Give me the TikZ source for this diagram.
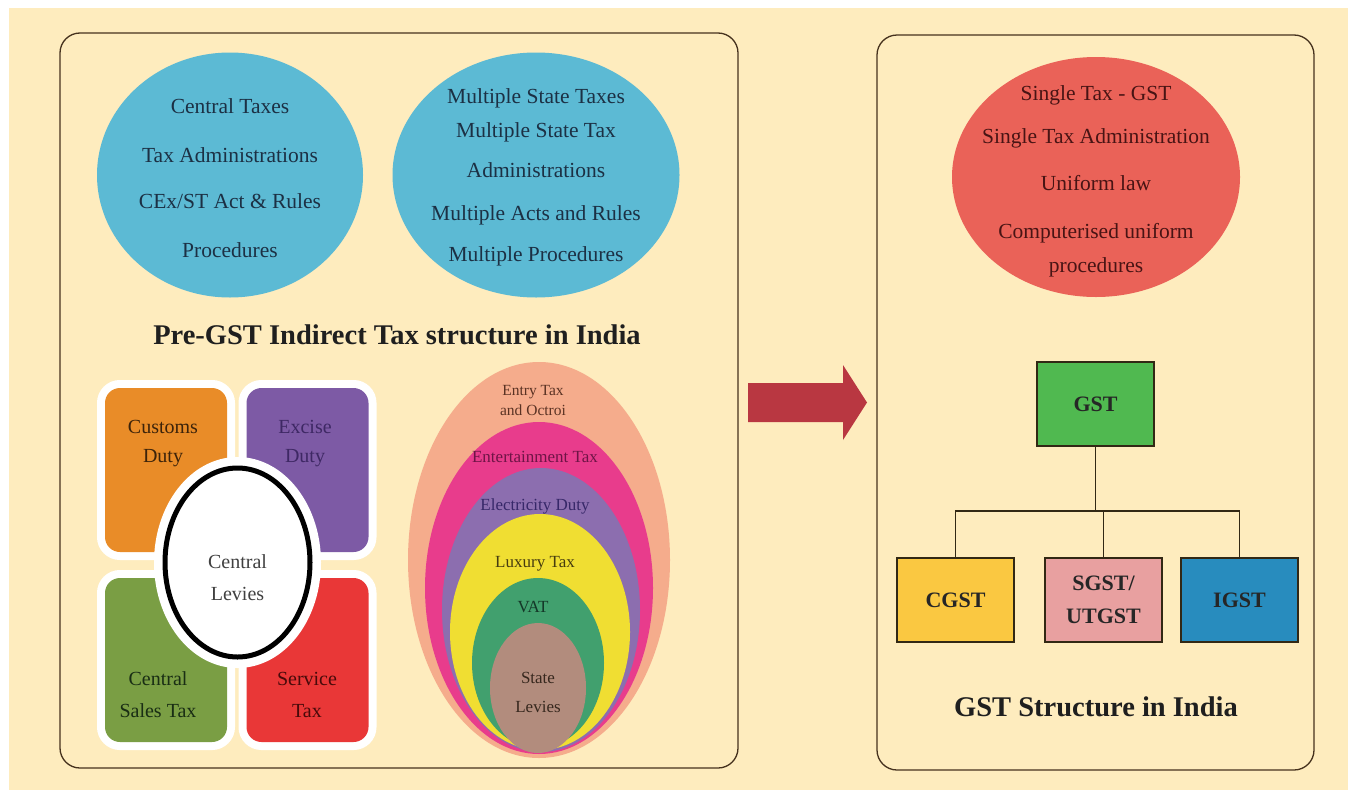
\documentclass[tikz,border=0pt]{standalone}
\usepackage{fontspec}
\setmainfont{Liberation Serif}
\usetikzlibrary{shapes.geometric}
\definecolor{cream}{RGB}{254,236,190}
\definecolor{panelline}{RGB}{70,50,30}
\definecolor{bluefill}{RGB}{92,186,212}
\definecolor{navytext}{RGB}{28,48,68}
\definecolor{redell}{RGB}{234,98,88}
\definecolor{redtext}{RGB}{72,20,20}
\definecolor{orangesq}{RGB}{233,140,40}
\definecolor{purplesq}{RGB}{125,90,165}
\definecolor{greensq}{RGB}{122,158,68}
\definecolor{redsq}{RGB}{233,55,55}
\definecolor{orangetxt}{RGB}{60,35,10}
\definecolor{purpletxt}{RGB}{62,40,100}
\definecolor{greentxt}{RGB}{25,45,20}
\definecolor{redtxt}{RGB}{72,10,10}
\definecolor{peach}{RGB}{245,172,140}
\definecolor{magenta2}{RGB}{232,60,140}
\definecolor{lilac}{RGB}{140,110,175}
\definecolor{yellow2}{RGB}{240,222,50}
\definecolor{teal2}{RGB}{65,160,110}
\definecolor{brown2}{RGB}{178,140,125}
\definecolor{arrowred}{RGB}{185,55,65}
\definecolor{gstgreen}{RGB}{80,185,80}
\definecolor{cgstyellow}{RGB}{250,200,65}
\definecolor{sgstpink}{RGB}{232,160,160}
\definecolor{igstblue}{RGB}{40,140,190}
\definecolor{boxline}{RGB}{50,40,20}
\begin{document}
\begin{tikzpicture}[x=1pt,y=-1pt,
  panel/.style={draw=panelline,line width=1.3pt,rounded corners=20pt,fill=cream,inner sep=0pt},
  ell/.style={ellipse,inner sep=0pt,draw=none},
  bigtxt/.style={font=\fontsize{21.5}{25}\selectfont,inner sep=0pt,anchor=base},
  sqtxt/.style={font=\fontsize{20}{24}\selectfont,inner sep=0pt,anchor=base},
  nesttxt/.style={font=\fontsize{17}{20}\selectfont,inner sep=0pt,anchor=base},
  titletxt/.style={font=\bfseries\fontsize{28.5}{32}\selectfont,inner sep=0pt,anchor=base,text=black!88},
  square/.style={rectangle,rounded corners=15pt,inner sep=0pt,minimum width=122pt,minimum height=164pt,
     preaction={draw=white,line width=16pt}},
  gstbox/.style={rectangle,draw=boxline,line width=1.2pt,inner sep=0pt,minimum width=117pt,minimum height=84pt,
     font=\bfseries\fontsize{22}{33}\selectfont,align=center,text=black!85},
  link/.style={draw=boxline,line width=1.2pt}
]
\useasboundingbox (0,0) rectangle (1359,790);
\fill[white] (0,0) rectangle (1359,790);
\fill[cream] (9,8) rectangle (1348,790);

% panels
\node[panel,minimum width=678pt,minimum height=735pt] (leftpanel) at (399,400.5) {};
\node[panel,minimum width=437pt,minimum height=735pt] (rightpanel) at (1095.5,402.5) {};

% blue ellipses
\node[ell,fill=bluefill,minimum width=266pt,minimum height=245pt] (cent) at (230,175) {};
\node[ell,fill=bluefill,minimum width=287pt,minimum height=245pt] (state) at (536,175) {};
\begin{scope}[every node/.style={bigtxt,text=navytext}]
\node (c1) at (230,113) {Central Taxes};
\node (c2) at (230,162) {Tax Administrations};
\node (c3) at (230,208) {CEx/ST Act \& Rules};
\node (c4) at (230,257) {Procedures};
\node (s1) at (536,103) {Multiple State Taxes};
\node (s2) at (536,137) {Multiple State Tax};
\node (s3) at (536,177) {Administrations};
\node (s4) at (536,220) {Multiple Acts and Rules};
\node (s5) at (536,261) {Multiple Procedures};
\end{scope}
\node[titletxt] (pretitle) at (397,344) {Pre-GST Indirect Tax structure in India};

% central levies squares
\node[square,fill=orangesq] (customs) at (166,470) {};
\node[square,fill=purplesq] (excise) at (307.5,470) {};
\node[square,fill=greensq] (cst) at (166,660) {};
\node[square,fill=redsq] (service) at (307.5,660) {};
\node[sqtxt,text=orangetxt] (t1) at (163,433) {Customs};
\node[sqtxt,text=orangetxt] (t2) at (163,462) {Duty};
\node[sqtxt,text=purpletxt] (t3) at (305,433) {Excise};
\node[sqtxt,text=purpletxt] (t4) at (305,462) {Duty};
\node[sqtxt,text=greentxt] (t5) at (158,685) {Central};
\node[sqtxt,text=greentxt] (t6) at (158,717) {Sales Tax};
\node[sqtxt,text=redtxt] (t7) at (307,685) {Service};
\node[sqtxt,text=redtxt] (t8) at (307,717) {Tax};
\node[ell,fill=white,draw=black,line width=5pt,minimum width=145pt,minimum height=189pt,
   preaction={draw=white,line width=22pt}] (levies) at (237.5,562.5) {};
\node[sqtxt,text=black!75] (l1) at (237.5,568) {Central};
\node[sqtxt,text=black!75] (l2) at (237.5,600) {Levies};

% nested state levies
\node[ell,fill=peach,minimum width=262pt,minimum height=396pt] (n1) at (539,560) {};
\node[ell,fill=magenta2,minimum width=228pt,minimum height=332pt] (n2) at (539,588) {};
\node[ell,fill=lilac,minimum width=198pt,minimum height=284pt] (n3) at (541,610) {};
\node[ell,fill=yellow2,minimum width=180pt,minimum height=236pt] (n4) at (540,632) {};
\node[ell,fill=teal2,minimum width=132pt,minimum height=170pt] (n5) at (538,663) {};
\node[ell,fill=brown2,minimum width=96pt,minimum height=130pt] (n6) at (538,688) {};
\node[nesttxt,font=\fontsize{15.5}{18}\selectfont,text={rgb,255:red,90;green,50;blue,35}] (e1) at (533,395) {Entry Tax};
\node[nesttxt,font=\fontsize{15.5}{18}\selectfont,text={rgb,255:red,90;green,50;blue,35}] (e2) at (533,415) {and Octroi};
\node[nesttxt,text={rgb,255:red,110;green,20;blue,70}] (e3) at (535,462) {Entertainment Tax};
\node[nesttxt,text={rgb,255:red,55;green,40;blue,105}] (e4) at (535,510) {Electricity Duty};
\node[nesttxt,text={rgb,255:red,70;green,60;blue,15}] (e5) at (535,567) {Luxury Tax};
\node[nesttxt,text={rgb,255:red,20;green,55;blue,40}] (e6) at (533,612) {VAT};
\node[nesttxt,text={rgb,255:red,55;green,40;blue,30}] (e7) at (538,683) {State};
\node[nesttxt,text={rgb,255:red,55;green,40;blue,30}] (e8) at (538,712) {Levies};

% block arrow
\fill[arrowred] (748,383) -- (843,383) -- (843,365) -- (867,402.5) -- (843,440) -- (843,422) -- (748,422) -- cycle;

% right: GST ellipse
\node[ell,fill=redell,minimum width=288pt,minimum height=240pt] (gstell) at (1096,177) {};
\begin{scope}[every node/.style={bigtxt,text=redtext}]
\node (g1) at (1096,100) {Single Tax - GST};
\node (g2) at (1096,143) {Single Tax Administration};
\node (g3) at (1096,190) {Uniform law};
\node (g4) at (1096,238) {Computerised uniform};
\node (g5) at (1096,272) {procedures};
\end{scope}

% GST tree
\coordinate (bus) at (1097,511);
\node[gstbox,fill=gstgreen] (gst) at (1095.5,404) {GST};
\node[gstbox,fill=cgstyellow] (cgst) at (955.5,600) {CGST};
\node[gstbox,fill=sgstpink] (sgst) at (1103.5,600) {SGST/\\UTGST};
\node[gstbox,fill=igstblue] (igst) at (1239.5,600) {IGST};
\draw[link] (gst.south) -- (gst.south |- bus);
\draw[link] (cgst.north) -- (cgst.north |- bus) -- (igst.north |- bus) -- (igst.north);
\draw[link] (sgst.north) -- (sgst.north |- bus);
\node[titletxt] (gsttitle) at (1096,716) {GST Structure in India};
\end{tikzpicture}
\end{document}
